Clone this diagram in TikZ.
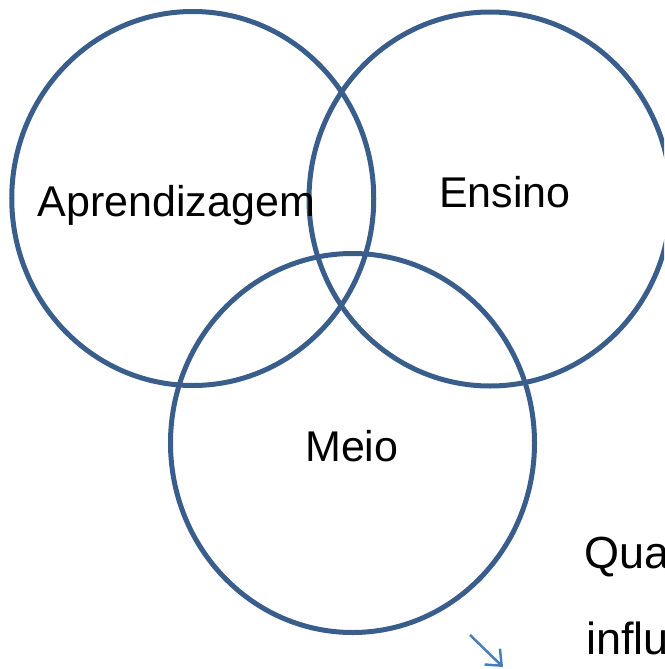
\documentclass[tikz,border=0pt]{standalone}
\usepackage{fontspec}
\setmainfont{Liberation Sans}
\usetikzlibrary{arrows.meta}
\definecolor{ringblue}{HTML}{3A5E8C}
\definecolor{arrowblue}{HTML}{4A7EBB}
\begin{document}
\begin{tikzpicture}[x=1pt,y=-1pt,
  ring/.style={draw=ringblue,line width=5pt},
  lbl/.style={anchor=base west,inner sep=0pt,font=\fontsize{43}{50}\selectfont},
  sidelbl/.style={anchor=base west,inner sep=0pt,font=\fontsize{45}{52}\selectfont},
  pointer/.style={draw=arrowblue,line width=2.5pt,-{Straight Barb[length=13pt,width=22pt,line width=2.5pt]}}]
\useasboundingbox (0,0) rectangle (664,669);
\begin{scope}
\clip (0,0) rectangle (664,669);
\draw[ring] (192.75,198.5) ellipse [x radius=181,y radius=187];
\draw[ring] (490,199) ellipse [x radius=181,y radius=187];
\draw[ring] (352.5,443) ellipse [x radius=182,y radius=189.5];
\node[lbl] (apr) at (37.5,216) {Aprendizagem};
\node[lbl] (ens) at (439,207.5) {Ensino};
\node[lbl] (meio) at (305,461) {Meio};
\node[sidelbl] (qua) at (584,568) {Qua};
\node[sidelbl] (infl) at (586,654) {influ};
\coordinate (a0) at (470,635);
\coordinate (a1) at (503,667);
\draw[pointer] (a0) -- (a1);
\end{scope}
\end{tikzpicture}
\end{document}
